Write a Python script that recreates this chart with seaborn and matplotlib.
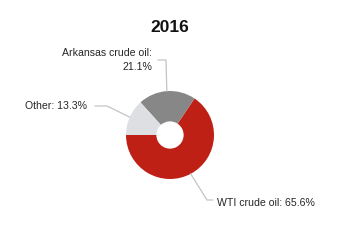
import matplotlib
matplotlib.use("Agg")
import matplotlib.pyplot as plt
import seaborn as sns
import numpy as np
from matplotlib import font_manager

# Data
categories = ["WTI crude oil", "Arkansas crude oil", "Other"]
shares = [65.6, 21.1, 13.3]
label_texts = ["WTI crude oil: 65.6%", "Arkansas crude oil:\n21.1%", "Other: 13.3%"]
title_text = "2016"

sns.set_theme(style="white")
fams = [f.name for f in font_manager.fontManager.ttflist]
fam = "Liberation Sans Narrow" if "Liberation Sans Narrow" in fams else "Liberation Sans"
plt.rcParams['font.family'] = [fam, 'DejaVu Sans']

colors = ["#BE2016", "#878787", "#DEDFE3"]

fig = plt.figure(figsize=(3.42, 2.40), dpi=100)
ax = fig.add_axes([0, 0, 1, 1])

cx, cy, R = 170, 105, 44
wedges, _ = ax.pie(shares, colors=colors, startangle=180, counterclock=True,
                   center=(cx, cy), radius=R, wedgeprops=dict(width=R * 0.69, linewidth=0),
                   frame=True)
ax.set_xlim(0, 342)
ax.set_ylim(0, 240)
ax.set_aspect("equal")
ax.axis("off")

line_kw = dict(color="#C4C4C4", lw=0.9)
fs = 7.6 if fam == "Liberation Sans" else 9

# label placements (elbow point and line end)
place = [
    dict(elbow=(207, 40), end=(213, 40)),
    dict(elbow=(166, 180), end=(158, 180)),
    dict(elbow=(107, 134), end=(95, 134)),
]
for w, p in zip(wedges, place):
    mid = np.deg2rad((w.theta1 + w.theta2) / 2)
    px, py = cx + R * np.cos(mid), cy + R * np.sin(mid)
    ax.plot([px, p["elbow"][0], p["end"][0]], [py, p["elbow"][1], p["end"][1]], **line_kw)

ax.text(217, 37, label_texts[0], ha="left", va="center", fontsize=fs, color="#262626")
ax.text(152, 180, label_texts[1], ha="right", va="center", fontsize=fs, color="#262626",
        multialignment="right", linespacing=1.55)
ax.text(87, 134, label_texts[2], ha="right", va="center", fontsize=fs, color="#262626")

ax.text(170, 213, title_text, ha="center", va="center", fontsize=12.5, fontweight="bold",
        color="#111111")

fig.savefig("out.png", dpi=100)
